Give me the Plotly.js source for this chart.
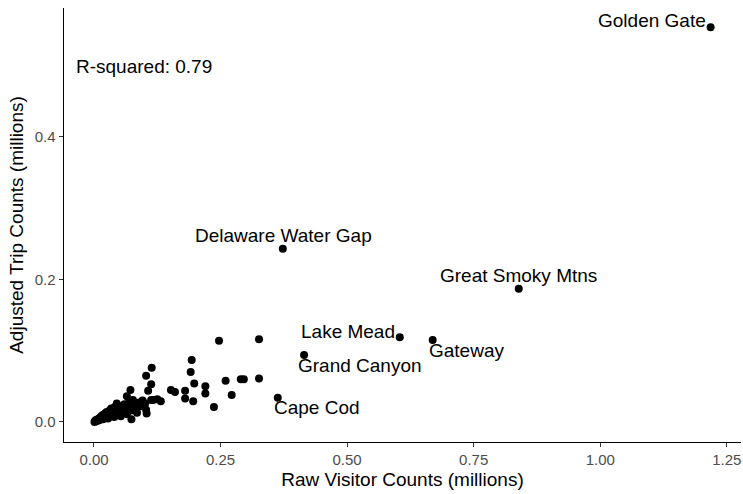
<!DOCTYPE html>
<html>
<head>
<meta charset="utf-8">
<script src="https://cdn.plot.ly/plotly-3.0.1.min.js"></script>
<style>html,body{margin:0;padding:0;background:#fff;}#chart{width:743px;height:494px;}</style>
</head>
<body>
<div id="chart"></div>
<script>
// Raw visitor counts (millions) and adjusted trip counts (millions) per park
const rawVisitors = [
  1.218, 0.373, 0.839, 0.604, 0.669, 0.415, 0.363,
  0.114, 0.103, 0.113, 0.107, 0.072, 0.065, 0.152, 0.160, 0.180, 0.180,
  0.193, 0.191, 0.198, 0.196, 0.220, 0.220, 0.247, 0.326, 0.260, 0.290,
  0.296, 0.326, 0.272, 0.237, 0.132, 0.125, 0.117, 0.084, 0.101, 0.104,
  0.074, 0.045, 0.077, 0.093, 0.113, 0.103, 0.051,
  0.001, 0.002, 0.003, 0.004, 0.005, 0.006, 0.008, 0.009, 0.010, 0.012,
  0.013, 0.015, 0.016, 0.018, 0.019, 0.021, 0.022, 0.024, 0.025, 0.027,
  0.028, 0.030, 0.031, 0.033, 0.034, 0.036, 0.038, 0.040, 0.041, 0.043,
  0.045, 0.047, 0.049, 0.051, 0.053, 0.055, 0.058, 0.060, 0.062, 0.065,
  0.068, 0.070, 0.073, 0.077, 0.080, 0.085, 0.088, 0.092, 0.096
];
const adjustedTrips = [
  0.554, 0.243, 0.187, 0.119, 0.115, 0.094, 0.034,
  0.076, 0.065, 0.053, 0.044, 0.045, 0.036, 0.045, 0.042, 0.044, 0.033,
  0.087, 0.070, 0.054, 0.029, 0.050, 0.040, 0.114, 0.116, 0.058, 0.060,
  0.060, 0.061, 0.038, 0.021, 0.029, 0.032, 0.031, 0.026, 0.026, 0.012,
  0.004, 0.026, 0.031, 0.028, 0.031, 0.017, 0.021,
  0.000, 0.001, 0.002, 0.001, 0.003, 0.002, 0.004, 0.002, 0.005, 0.003,
  0.007, 0.005, 0.009, 0.004, 0.010, 0.007, 0.012, 0.006, 0.014, 0.009,
  0.005, 0.012, 0.016, 0.008, 0.019, 0.011, 0.014, 0.007, 0.021, 0.010,
  0.016, 0.023, 0.012, 0.018, 0.008, 0.021, 0.014, 0.025, 0.017, 0.011,
  0.021, 0.028, 0.016, 0.024, 0.019, 0.013, 0.027, 0.022, 0.030
];
// Labelled parks (index into the arrays above)
const labelNames = ["Golden Gate", "Delaware Water Gap", "Great Smoky Mtns", "Lake Mead", "Gateway", "Grand Canyon", "Cape Cod"];
const labelIndex = [0, 1, 2, 3, 4, 5, 6];
const rSquaredText = "R-squared: 0.79";
const xTickVals = [0, 0.25, 0.5, 0.75, 1.0, 1.25];
const xTickText = ["0.00", "0.25", "0.50", "0.75", "1.00", "1.25"];
const yTickVals = [0, 0.2, 0.4];
const yTickText = ["0.0", "0.2", "0.4"];

// label placement styles (offsets in pixels)
const labelStyle = {
  "Golden Gate":        {xanchor: "right",  xshift: -3, yshift: 7},
  "Delaware Water Gap": {xanchor: "center", xshift: 1,  yshift: 13},
  "Great Smoky Mtns":   {xanchor: "center", xshift: 0,  yshift: 13},
  "Lake Mead":          {xanchor: "right",  xshift: -3, yshift: 6},
  "Gateway":            {xanchor: "left",   xshift: -6, yshift: -10},
  "Grand Canyon":       {xanchor: "left",   xshift: -8, yshift: -10},
  "Cape Cod":           {xanchor: "left",   xshift: -6, yshift: -10}
};

const FONT = "Liberation Sans, Arial, Helvetica, sans-serif";

const annotations = labelNames.map((name, k) => {
  const i = labelIndex[k];
  const s = labelStyle[name];
  return {
    x: rawVisitors[i], y: adjustedTrips[i], xref: "x", yref: "y",
    text: name, showarrow: false,
    xanchor: s.xanchor, yanchor: "middle", xshift: s.xshift, yshift: s.yshift,
    font: {family: FONT, size: 19, color: "#000"}
  };
});
annotations.push({
  xref: "paper", yref: "paper", x: 0.0145, y: 0.866, xanchor: "left", yanchor: "middle",
  text: rSquaredText, showarrow: false,
  font: {family: FONT, size: 19, color: "#000"}
});

const trace = {
  x: rawVisitors, y: adjustedTrips, type: "scatter", mode: "markers",
  marker: {color: "#000", size: 8, line: {width: 0}},
  hoverinfo: "none"
};

const layout = {
  width: 743, height: 494,
  margin: {l: 64, r: 2, t: 8, b: 52},
  paper_bgcolor: "#fff", plot_bgcolor: "#fff",
  showlegend: false,
  font: {family: FONT},
  xaxis: {
    range: [-0.0592, 1.278], tickvals: xTickVals, ticktext: xTickText,
    showgrid: false, zeroline: false, showline: true, linecolor: "#000", linewidth: 1.4,
    ticks: "outside", ticklen: 4, tickwidth: 1, tickcolor: "#333",
    tickfont: {family: FONT, size: 15, color: "#4d4d4d"},
    title: {text: "Raw Visitor Counts (millions)", font: {family: FONT, size: 19, color: "#000"}, standoff: 5}
  },
  yaxis: {
    range: [-0.0281, 0.581], tickvals: yTickVals, ticktext: yTickText,
    showgrid: false, zeroline: false, showline: true, linecolor: "#000", linewidth: 1.4,
    ticks: "outside", ticklen: 4, tickwidth: 1, tickcolor: "#333",
    tickfont: {family: FONT, size: 15, color: "#4d4d4d"},
    title: {text: "Adjusted Trip Counts (millions)", font: {family: FONT, size: 19, color: "#000"}, standoff: 6}
  },
  annotations: annotations
};

Plotly.newPlot("chart", [trace], layout, {displayModeBar: false, staticPlot: true});
</script>
</body>
</html>
